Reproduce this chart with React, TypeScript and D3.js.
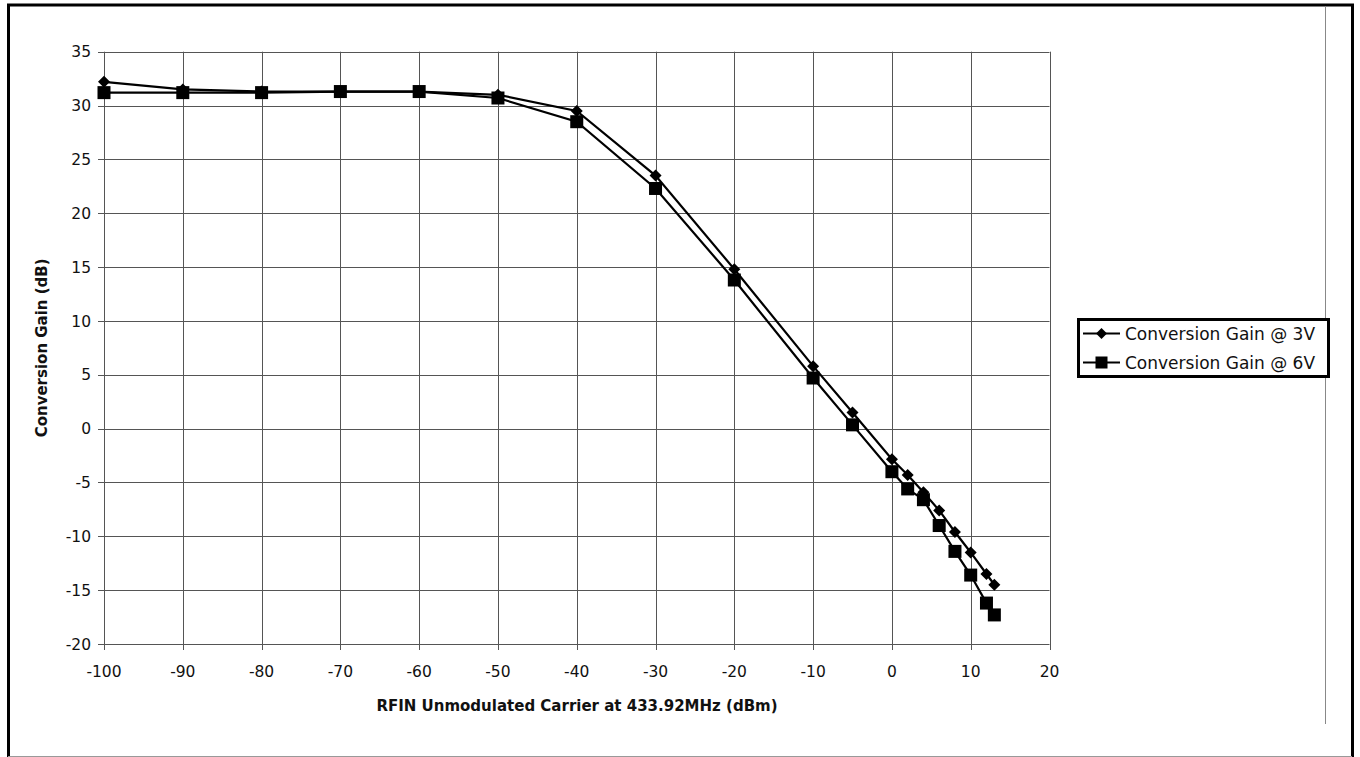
import React from "react";
import * as d3 from "d3";

const xValues = [-100, -90, -80, -70, -60, -50, -40, -30, -20, -10, -5, 0, 2, 4, 6, 8, 10, 12, 13];
const gain3V = [32.2, 31.5, 31.3, 31.3, 31.3, 31.0, 29.5, 23.5, 14.8, 5.8, 1.5, -2.85, -4.3, -5.9, -7.6, -9.6, -11.5, -13.5, -14.5];
const gain6V = [31.2, 31.2, 31.2, 31.3, 31.3, 30.7, 28.5, 22.3, 13.8, 4.7, 0.35, -4.0, -5.6, -6.6, -9.0, -11.4, -13.6, -16.2, -17.3];
const xTicks = [-100, -90, -80, -70, -60, -50, -40, -30, -20, -10, 0, 10, 20];
const yTicks = [35, 30, 25, 20, 15, 10, 5, 0, -5, -10, -15, -20];
const seriesNames = ["Conversion Gain @ 3V", "Conversion Gain @ 6V"];
const xTitle = "RFIN Unmodulated Carrier at 433.92MHz (dBm)";
const yTitle = "Conversion Gain (dB)";

const FONT = "'DejaVu Sans', sans-serif";

export default function App() {
  const x = d3.scaleLinear().domain([-100, 20]).range([104, 1049.5]);
  const y = d3.scaleLinear().domain([-20, 35]).range([644, 51.7]);
  const line = d3
    .line<[number, number]>()
    .x((d) => x(d[0]))
    .y((d) => y(d[1]));
  const pts3 = xValues.map((v, i) => [v, gain3V[i]] as [number, number]);
  const pts6 = xValues.map((v, i) => [v, gain6V[i]] as [number, number]);
  const diamond = (cx: number, cy: number, r: number) =>
    `M${cx},${cy - r}L${cx + r},${cy}L${cx},${cy + r}L${cx - r},${cy}Z`;

  return (
    <svg
      width={1360}
      height={757}
      style={{ position: "absolute", left: 0, top: 0, background: "#fff" }}
    >
      {/* frame */}
      <line x1={8.5} y1={5} x2={8.5} y2={757} stroke="#000" strokeWidth={3} />
      <line x1={7} y1={5} x2={1354} y2={5} stroke="#000" strokeWidth={3} />
      <line x1={1352.5} y1={4} x2={1352.5} y2={757} stroke="#000" strokeWidth={3} />
      <line x1={8} y1={756.5} x2={1352} y2={756.5} stroke="#999" strokeWidth={1} />
      <line x1={1325.5} y1={6} x2={1325.5} y2={724} stroke="#888" strokeWidth={1} />

      {/* gridlines */}
      {yTicks.map((t) => (
        <line key={"gy" + t} x1={98} x2={1049.5} y1={Math.round(y(t)) + 0.5} y2={Math.round(y(t)) + 0.5} stroke="#555" strokeWidth={1} />
      ))}
      {xTicks.map((t) => (
        <line key={"gx" + t} x1={Math.round(x(t)) + 0.5} x2={Math.round(x(t)) + 0.5} y1={y(35)} y2={650} stroke="#555" strokeWidth={1} />
      ))}

      {/* tick labels */}
      {yTicks.map((t) => (
        <text key={"ty" + t} x={91} y={y(t)} dy="0.36em" textAnchor="end" fontFamily={FONT} fontSize={15.5} fill="#111">
          {t}
        </text>
      ))}
      {xTicks.map((t) => (
        <text key={"tx" + t} x={x(t)} y={677} textAnchor="middle" fontFamily={FONT} fontSize={15.5} fill="#111">
          {t}
        </text>
      ))}

      {/* titles */}
      <text x={577} y={711} textAnchor="middle" fontFamily={FONT} fontWeight="bold" fontSize={15} fill="#111">
        {xTitle}
      </text>
      <text
        transform={`translate(47,${(y(35) + y(-20)) / 2}) rotate(-90)`}
        textAnchor="middle"
        fontFamily={FONT}
        fontWeight="bold"
        fontSize={15}
        fill="#111"
      >
        {yTitle}
      </text>

      {/* series */}
      <path d={line(pts3) || ""} fill="none" stroke="#000" strokeWidth={2.2} />
      <path d={line(pts6) || ""} fill="none" stroke="#000" strokeWidth={2.2} />
      {pts3.map((p, i) => (
        <path key={"d" + i} d={diamond(x(p[0]), y(p[1]), 6)} fill="#000" />
      ))}
      {pts6.map((p, i) => (
        <rect key={"s" + i} x={x(p[0]) - 6.5} y={y(p[1]) - 6.5} width={13} height={13} fill="#000" />
      ))}

      {/* legend */}
      <rect x={1078.5} y={319.5} width={250} height={57} fill="#fff" stroke="#000" strokeWidth={3} />
      <line x1={1083} x2={1120} y1={333.5} y2={333.5} stroke="#000" strokeWidth={2.2} />
      <path d={diamond(1101.5, 333.5, 5.5)} fill="#000" />
      <text x={1125} y={333.5} dy="0.36em" fontFamily={FONT} fontSize={17} fill="#111">
        {seriesNames[0]}
      </text>
      <line x1={1083} x2={1120} y1={362.5} y2={362.5} stroke="#000" strokeWidth={2.2} />
      <rect x={1095.5} y={356.5} width={12} height={12} fill="#000" />
      <text x={1125} y={362.5} dy="0.36em" fontFamily={FONT} fontSize={17} fill="#111">
        {seriesNames[1]}
      </text>
    </svg>
  );
}
